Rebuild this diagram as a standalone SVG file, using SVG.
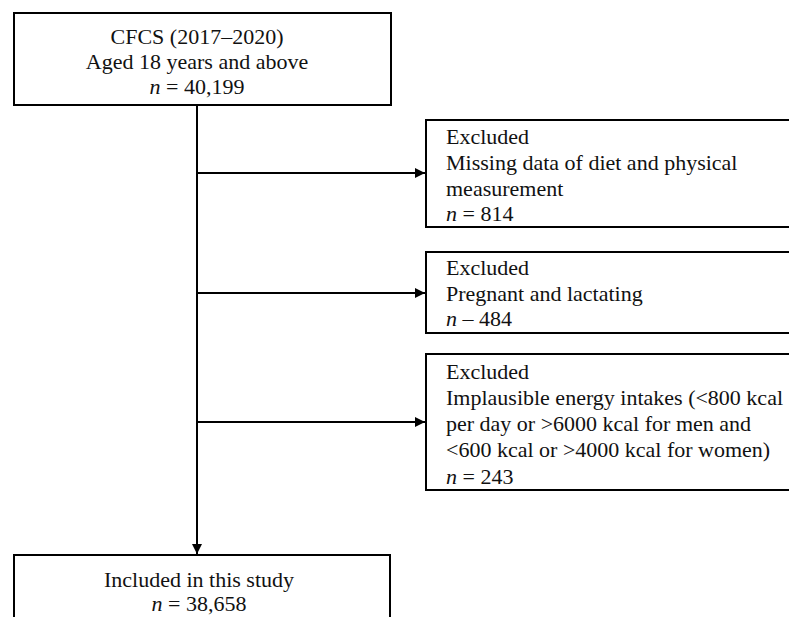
<svg xmlns="http://www.w3.org/2000/svg" width="789" height="617" viewBox="0 0 789 617">
<style>
.box{fill:#fff;stroke:#000;stroke-width:2}
.t{font-family:"Liberation Serif","Times New Roman",serif;font-size:22px;fill:#111}
.c{text-anchor:middle}
.ln{stroke:#000;stroke-width:2;fill:none}
</style>
<defs>
<marker id="ah" markerWidth="10" markerHeight="10" refX="10" refY="5" orient="auto" markerUnits="userSpaceOnUse">
<path d="M0,0 L10,5 L0,10 Z" fill="#000"/>
</marker>
</defs>
<rect width="789" height="617" fill="#fff"/>
<g id="connectors">
<line class="ln" x1="197" y1="105" x2="197" y2="554" marker-end="url(#ah)"/>
<line class="ln" x1="197" y1="173" x2="425" y2="173" marker-end="url(#ah)"/>
<line class="ln" x1="197" y1="293" x2="425" y2="293" marker-end="url(#ah)"/>
<line class="ln" x1="197" y1="422" x2="425" y2="422" marker-end="url(#ah)"/>
</g>
<g id="n_start">
<rect class="box" x="14" y="13" width="377" height="92"/>
<text class="t c" x="197" y="44">CFCS (2017–2020)</text>
<text class="t c" x="197" y="69">Aged 18 years and above</text>
<text class="t c" x="197" y="94"><tspan font-style="italic">n</tspan> = 40,199</text>
</g>
<g id="n_excl1">
<rect class="box" x="426" y="120" width="370" height="107"/>
<text class="t" x="446" y="144">Excluded</text>
<text class="t" x="446" y="170">Missing data of diet and physical</text>
<text class="t" x="446" y="196">measurement</text>
<text class="t" x="446" y="221"><tspan font-style="italic">n</tspan> = 814</text>
</g>
<g id="n_excl2">
<rect class="box" x="426" y="252" width="370" height="81"/>
<text class="t" x="446" y="275">Excluded</text>
<text class="t" x="446" y="301">Pregnant and lactating</text>
<text class="t" x="446" y="326"><tspan font-style="italic">n</tspan> – 484</text>
</g>
<g id="n_excl3">
<rect class="box" x="426" y="354" width="370" height="136"/>
<text class="t" x="446" y="379">Excluded</text>
<text class="t" x="446" y="405">Implausible energy intakes (&lt;800 kcal</text>
<text class="t" x="446" y="431">per day or &gt;6000 kcal for men and</text>
<text class="t" x="446" y="457">&lt;600 kcal or &gt;4000 kcal for women)</text>
<text class="t" x="446" y="484"><tspan font-style="italic">n</tspan> = 243</text>
</g>
<g id="n_included">
<rect class="box" x="14" y="555" width="376" height="80"/>
<text class="t c" x="199" y="587">Included in this study</text>
<text class="t c" x="199" y="611"><tspan font-style="italic">n</tspan> = 38,658</text>
</g>
</svg>
